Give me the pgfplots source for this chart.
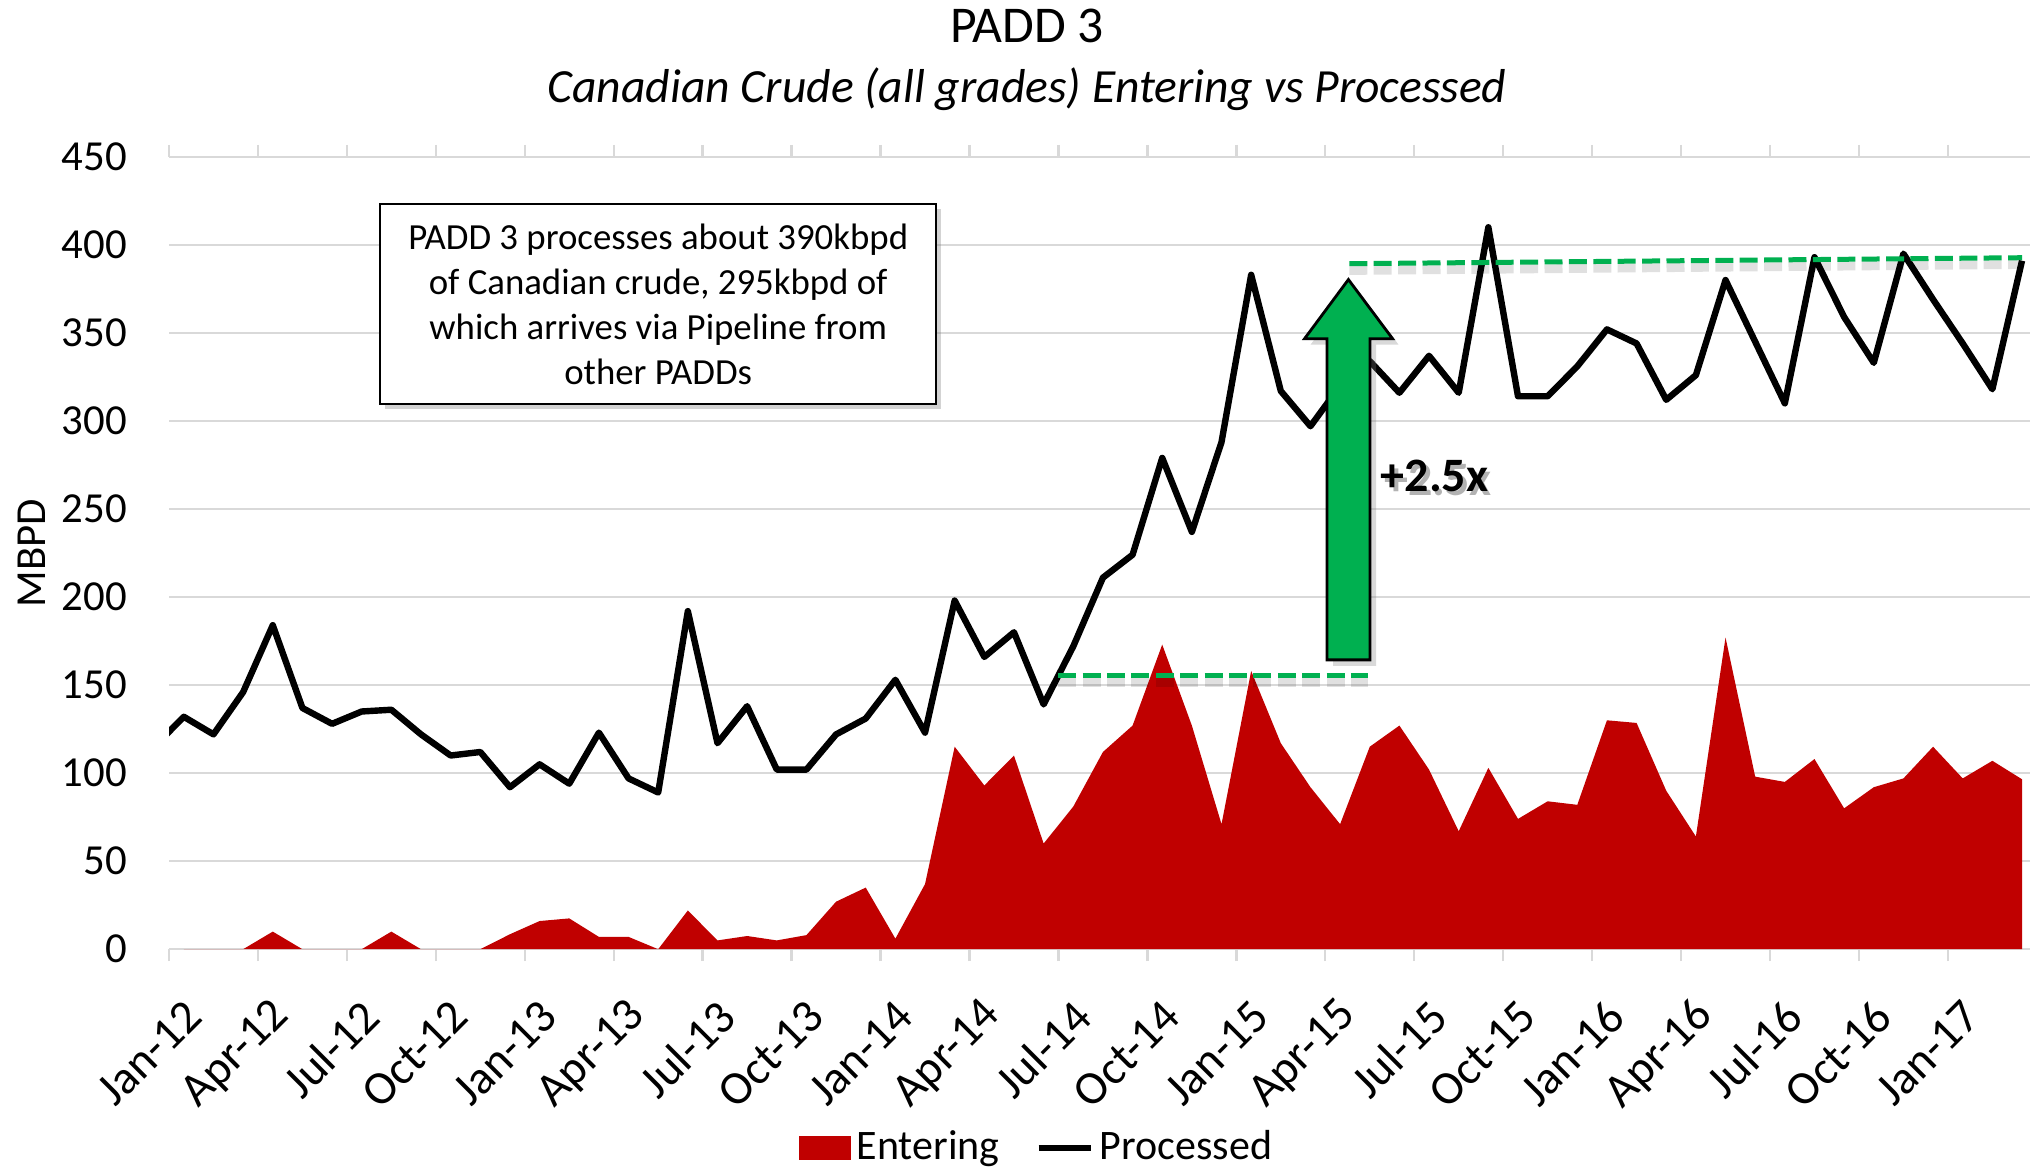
\documentclass[border=0pt]{standalone}
\usepackage{pgfplots}
\pgfplotsset{compat=1.18}
\usepackage{fontspec}
\setmainfont{Carlito}
\usetikzlibrary{shadows}
\definecolor{exred}{HTML}{C00000}
\definecolor{exgreen}{HTML}{00B050}
\definecolor{gridgray}{HTML}{D9D9D9}

\pgfplotstableread{
i v
0 0
1 0
2 0
3 10
4 0
5 0
6 0
7 10
8 0
9 0
10 0
11 8.5
12 16
13 17.5
14 7
15 7
16 0
17 22
18 5
19 7.5
20 5
21 8
22 27
23 35
24 6
25 37
26 115
27 93
28 110
29 60
30 81
31 112
32 127
33 173
34 127
35 71
36 158
37 117
38 92
39 71
40 115
41 127
42 102
43 67
44 103
45 74
46 84
47 82
48 130
49 128.5
50 90
51 64
52 177
53 98
54 95
55 108
56 80
57 92
58 97
59 115
60 97
61 107
62 96.5
}\entering

\pgfplotstableread{
i v
-1 115
0 132
1 122
2 146
3 184
4 137
5 128
6 135
7 136
8 122
9 110
10 112
11 92
12 105
13 94
14 123
15 97
16 89
17 192
18 117
19 138
20 102
21 102
22 122
23 131
24 153
25 123
26 198
27 166
28 180
29 139
30 172
31 211
32 224
33 279
34 237
35 288
36 383
37 317
38 297
39 320
40 334
41 316
42 337
43 316
44 410
45 314
46 314
47 331
48 352
49 344
50 312
51 326
52 380
53 345
54 310
55 393
56 359
57 333
58 395
59 369
60 344
61 318
62 391
}\processed

\begin{document}
\begin{tikzpicture}
\begin{axis}[
  at={(0,0)}, anchor=south west,
  scale only axis, width=465.25pt, height=198.1pt,
  xmin=-0.5, xmax=62.27, ymin=0, ymax=450,
  ytick={0,50,...,450},
  ymajorgrids, grid style={gridgray, line width=0.6pt},
  axis line style={draw=none},
  xtick={0,3,...,60},
  xticklabels={Jan-12,Apr-12,Jul-12,Oct-12,Jan-13,Apr-13,Jul-13,Oct-13,Jan-14,Apr-14,Jul-14,Oct-14,Jan-15,Apr-15,Jul-15,Oct-15,Jan-16,Apr-16,Jul-16,Oct-16,Jan-17},
  minor xtick={-0.5,2.5,...,59.5},
  major tick length=0pt,
  minor tick length=3pt,
  tick align=outside,
  minor tick style={gridgray, line width=0.6pt},
  xticklabel style={xshift=2.5pt, rotate=45, anchor=east, inner sep=0pt, font=\fontsize{11.8}{14}\selectfont},
  xticklabel shift=14.8pt,
  yticklabel style={anchor=east, inner sep=0pt, font=\fontsize{10.7}{12.5}\selectfont},
  yticklabel shift=10.3pt,
  /pgf/number format/assume math mode=true,
  ylabel={MBPD},
  every axis y label/.style={at={(axis description cs:-0.0737,0.5)}, rotate=90, anchor=center, font=\fontsize{10.7}{12.5}\selectfont},
  clip mode=individual,
  legend style={at={(axis description cs:0.4672,-0.2509)}, anchor=center, draw=none, fill=none,
    legend columns=-1, font=\fontsize{10.5}{12}\selectfont, inner sep=0pt,
    nodes={inner sep=1.5pt},
    /tikz/every even column/.append style={column sep=7.5pt}},
]
\addplot[fill=exred, draw=none,
  legend image code/.code={\fill[exred] (0pt,-3pt) rectangle (13pt,3pt);}]
  table[x=i, y=v] {\entering} \closedcycle;
\addlegendentry{Entering}
\addplot[black, line width=1.6pt, line join=round,
  legend image code/.code={\draw[black, line width=1.6pt] (0pt,0pt) -- (13pt,0pt);}]
  table[x=i, y=v] {\processed};
\addlegendentry{Processed}

% text box
\node[draw=black, line width=0.5pt, fill=white,
  drop shadow={opacity=0.35, shadow xshift=1.2pt, shadow yshift=-1.2pt},
  minimum width=138.85pt, minimum height=49.9pt, align=center,
  font=\fontsize{9.2}{11.3}\selectfont] at (axis cs:16.0,366.3)
  {PADD 3 processes about 390kbpd\\of Canadian crude, 295kbpd of\\which arrives via Pipeline from\\other PADDs};

% dashed reference lines (shadow + line)
\draw[black, opacity=0.12, line width=2.2pt, dash pattern=on 4.5pt off 1.6pt, yshift=-1.7pt]
  (axis cs:29.49,155.3) -- (axis cs:39.95,155.3);
\draw[exgreen, line width=1.25pt, dash pattern=on 4.5pt off 1.6pt]
  (axis cs:29.49,155.3) -- (axis cs:39.95,155.3);
\draw[black, opacity=0.12, line width=2.2pt, dash pattern=on 4.5pt off 1.6pt, yshift=-1.7pt]
  (axis cs:39.31,389.3) -- (axis cs:62.0,392.7);
\draw[exgreen, line width=1.25pt, dash pattern=on 4.5pt off 1.6pt]
  (axis cs:39.31,389.3) -- (axis cs:62.0,392.7);

% arrow
\draw[fill=exgreen, line width=0.7pt, line join=miter,
  drop shadow={opacity=0.3, shadow xshift=1.5pt, shadow yshift=-1.5pt}]
  (axis cs:38.56,164.3) -- (axis cs:38.56,346.7) -- (axis cs:37.8,346.7)
  -- (axis cs:39.28,380.3) -- (axis cs:40.77,346.7) -- (axis cs:40.01,346.7)
  -- (axis cs:40.01,164.3) -- cycle;

\node[inner sep=0pt, anchor=base west, text=black!30, font=\bfseries\fontsize{12}{14}\selectfont] at ([xshift=0.8pt,yshift=-0.8pt]axis cs:40.35,259.7) {+2.5x};
\node[inner sep=0pt, anchor=base west, font=\bfseries\fontsize{12}{14}\selectfont] at (axis cs:40.35,259.7) {+2.5x};
\end{axis}

\node[inner sep=0pt, anchor=base, font=\fontsize{12.9}{15}\selectfont] at (214.5pt,226.6pt) {PADD 3};
\node[inner sep=0pt, anchor=base, font=\itshape\fontsize{11.9}{14}\selectfont] at (214.5pt,211.6pt) {Canadian Crude (all grades) Entering vs Processed};

\pgfresetboundingbox
\useasboundingbox (-42.25pt,-54.7pt) rectangle (465.25pt,237.3pt);
\end{tikzpicture}
\end{document}
